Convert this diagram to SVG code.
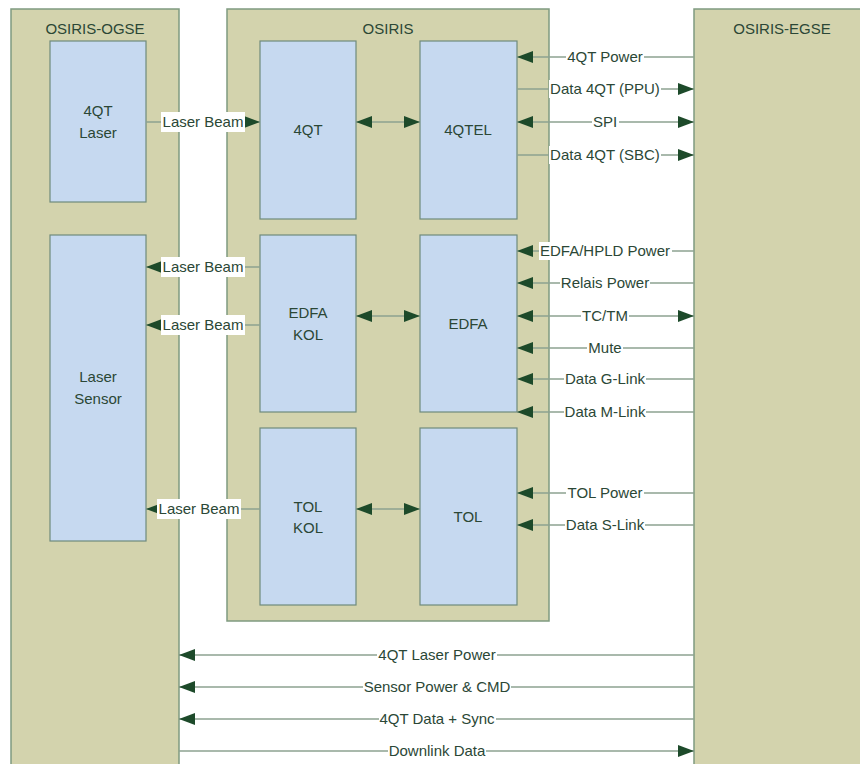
<svg xmlns="http://www.w3.org/2000/svg" width="860" height="764" viewBox="0 0 860 764">
<defs>
<style>
.outer{fill:#d3d3ad;stroke:#7f9a80;stroke-width:1.5}
.box{fill:#c6d9f0;stroke:#6f8a7c;stroke-width:1.2}
text{font-family:"Liberation Sans",Arial,sans-serif;font-size:15px;fill:#2b4736;text-anchor:middle}
.ln{stroke:#8da291;stroke-width:1.5;fill:none}
.bg{fill:#ffffff}
</style>
<marker id="ah" markerUnits="userSpaceOnUse" markerWidth="16" markerHeight="13" viewBox="0 0 16 13" refX="16" refY="6.5" orient="auto-start-reverse">
<path d="M0,0.5 L16,6.5 L0,12.5 z" fill="#1d4a2a"/>
</marker>
</defs>
<rect width="860" height="764" fill="#ffffff"/>

<g id="ogse">
<rect class="outer" x="11" y="9" width="168" height="770"/>
<text x="95" y="34">OSIRIS-OGSE</text>
</g>
<g id="osiris">
<rect class="outer" x="227" y="9" width="322" height="612"/>
<text x="388" y="34">OSIRIS</text>
</g>
<g id="egse">
<rect class="outer" x="694" y="9" width="180" height="770"/>
<text x="782" y="34">OSIRIS-EGSE</text>
</g>

<g id="n-4qt-laser">
<rect class="box" x="50" y="41" width="96" height="161"/>
<text x="98" y="116">4QT</text>
<text x="98" y="138">Laser</text>
</g>
<g id="n-laser-sensor">
<rect class="box" x="50" y="235" width="96" height="306"/>
<text x="98" y="382">Laser</text>
<text x="98" y="404">Sensor</text>
</g>
<g id="n-4qt">
<rect class="box" x="260" y="41" width="96" height="178"/>
<text x="308" y="135">4QT</text>
</g>
<g id="n-4qtel">
<rect class="box" x="420" y="41" width="97" height="178"/>
<text x="468" y="135">4QTEL</text>
</g>
<g id="n-edfa-kol">
<rect class="box" x="260" y="235" width="96" height="177"/>
<text x="308" y="318">EDFA</text>
<text x="308" y="340">KOL</text>
</g>
<g id="n-edfa">
<rect class="box" x="420" y="235" width="97" height="177"/>
<text x="468" y="329">EDFA</text>
</g>
<g id="n-tol-kol">
<rect class="box" x="260" y="428" width="96" height="177"/>
<text x="308" y="512">TOL</text>
<text x="308" y="533">KOL</text>
</g>
<g id="n-tol">
<rect class="box" x="420" y="428" width="97" height="177"/>
<text x="468" y="522">TOL</text>
</g>

<g id="connectors">
<line class="ln" x1="146" y1="122" x2="260" y2="122" marker-end="url(#ah)"/>
<rect class="bg" x="161" y="112" width="84" height="20"/>
<text x="203" y="127">Laser Beam</text>
<line class="ln" x1="260" y1="267" x2="146" y2="267" marker-end="url(#ah)"/>
<rect class="bg" x="161" y="257" width="84" height="20"/>
<text x="203" y="272">Laser Beam</text>
<line class="ln" x1="260" y1="325" x2="146" y2="325" marker-end="url(#ah)"/>
<rect class="bg" x="161" y="315" width="84" height="20"/>
<text x="203" y="330">Laser Beam</text>
<line class="ln" x1="260" y1="509" x2="146" y2="509" marker-end="url(#ah)"/>
<rect class="bg" x="157" y="499" width="84" height="20"/>
<text x="199" y="514">Laser Beam</text>

<line class="ln" x1="356" y1="122" x2="420" y2="122" marker-start="url(#ah)" marker-end="url(#ah)"/>
<line class="ln" x1="356" y1="316" x2="420" y2="316" marker-start="url(#ah)" marker-end="url(#ah)"/>
<line class="ln" x1="356" y1="509" x2="420" y2="509" marker-start="url(#ah)" marker-end="url(#ah)"/>

<line class="ln" x1="694" y1="57" x2="517" y2="57" marker-end="url(#ah)"/>
<rect class="bg" x="566" y="48" width="78" height="18"/>
<text x="605" y="62">4QT Power</text>
<line class="ln" x1="517" y1="89" x2="694" y2="89" marker-end="url(#ah)"/>
<rect class="bg" x="549" y="80" width="112" height="18"/>
<text x="605" y="94">Data 4QT (PPU)</text>
<line class="ln" x1="517" y1="122" x2="694" y2="122" marker-start="url(#ah)" marker-end="url(#ah)"/>
<rect class="bg" x="592" y="113" width="27" height="18"/>
<text x="605" y="127">SPI</text>
<line class="ln" x1="517" y1="155" x2="694" y2="155" marker-end="url(#ah)"/>
<rect class="bg" x="549" y="146" width="112" height="18"/>
<text x="605" y="160">Data 4QT (SBC)</text>

<line class="ln" x1="694" y1="251" x2="517" y2="251" marker-end="url(#ah)"/>
<rect class="bg" x="539" y="242" width="133" height="18"/>
<text x="605" y="256">EDFA/HPLD Power</text>
<line class="ln" x1="694" y1="283" x2="517" y2="283" marker-end="url(#ah)"/>
<rect class="bg" x="560" y="274" width="90" height="18"/>
<text x="605" y="288">Relais Power</text>
<line class="ln" x1="517" y1="316" x2="694" y2="316" marker-start="url(#ah)" marker-end="url(#ah)"/>
<rect class="bg" x="581" y="307" width="48" height="18"/>
<text x="605" y="321">TC/TM</text>
<line class="ln" x1="694" y1="348" x2="517" y2="348" marker-end="url(#ah)"/>
<rect class="bg" x="587" y="339" width="36" height="18"/>
<text x="605" y="353">Mute</text>
<line class="ln" x1="694" y1="379" x2="517" y2="379" marker-end="url(#ah)"/>
<rect class="bg" x="564" y="370" width="82" height="18"/>
<text x="605" y="384">Data G-Link</text>
<line class="ln" x1="694" y1="412" x2="517" y2="412" marker-end="url(#ah)"/>
<rect class="bg" x="564" y="403" width="82" height="18"/>
<text x="605" y="417">Data M-Link</text>

<line class="ln" x1="694" y1="493" x2="517" y2="493" marker-end="url(#ah)"/>
<rect class="bg" x="566" y="484" width="78" height="18"/>
<text x="605" y="498">TOL Power</text>
<line class="ln" x1="694" y1="525" x2="517" y2="525" marker-end="url(#ah)"/>
<rect class="bg" x="565" y="516" width="80" height="18"/>
<text x="605" y="530">Data S-Link</text>

<line class="ln" x1="694" y1="655" x2="179" y2="655" marker-end="url(#ah)"/>
<rect class="bg" x="377" y="646" width="120" height="18"/>
<text x="437" y="660">4QT Laser Power</text>
<line class="ln" x1="694" y1="687" x2="179" y2="687" marker-end="url(#ah)"/>
<rect class="bg" x="363" y="678" width="148" height="18"/>
<text x="437" y="692">Sensor Power &amp; CMD</text>
<line class="ln" x1="694" y1="719" x2="179" y2="719" marker-end="url(#ah)"/>
<rect class="bg" x="379" y="710" width="117" height="18"/>
<text x="437" y="724">4QT Data + Sync</text>
<line class="ln" x1="179" y1="751" x2="694" y2="751" marker-end="url(#ah)"/>
<rect class="bg" x="388" y="742" width="98" height="18"/>
<text x="437" y="756">Downlink Data</text>
</g>
</svg>
